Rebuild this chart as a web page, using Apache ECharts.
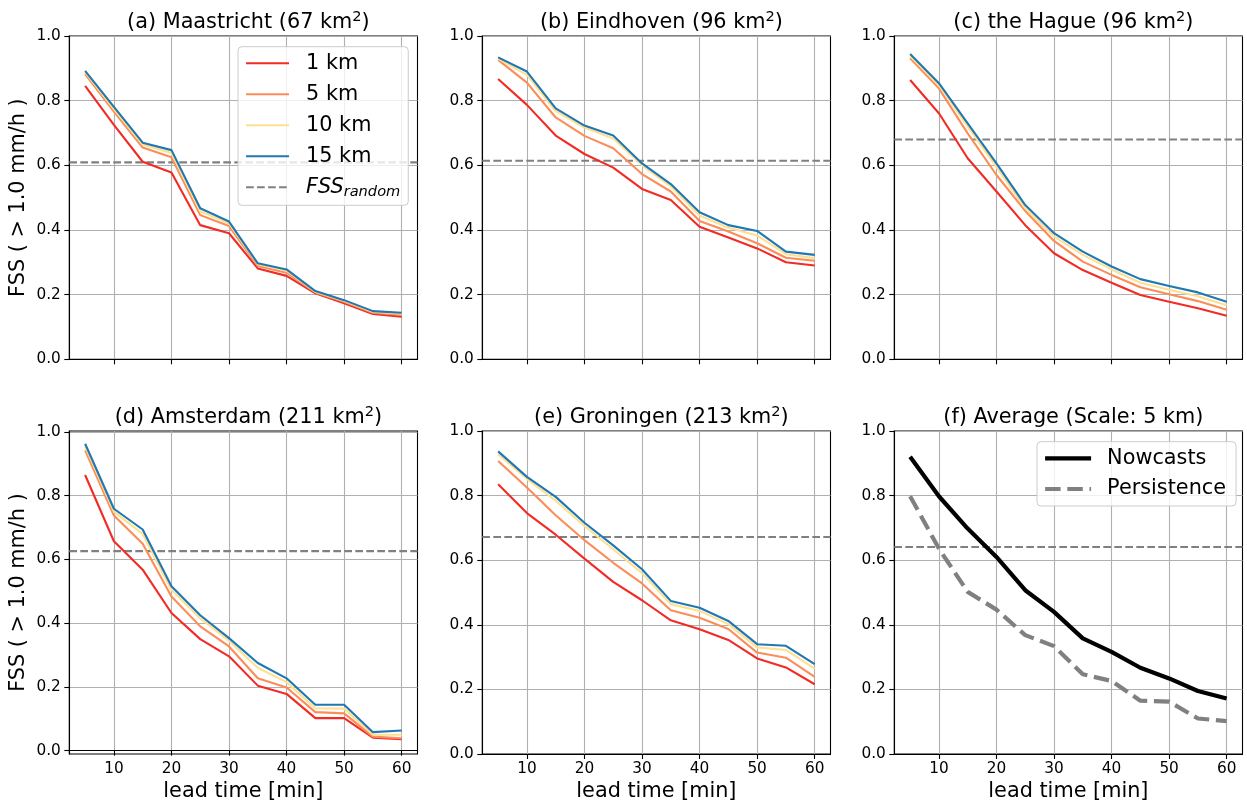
<!DOCTYPE html>
<html>
<head>
<meta charset="utf-8">
<script src="https://cdn.jsdelivr.net/npm/echarts@6/dist/echarts.min.js"></script>
<style>
  html, body { margin: 0; padding: 0; background: #ffffff; }
  #chart { width: 1247px; height: 806px; }
</style>
</head>
<body>
<div id="chart"></div>
<script>
// Lead times (minutes) shared by all panels
const leadTimes = [5, 10, 15, 20, 25, 30, 35, 40, 45, 50, 55, 60];
const xTicks = [10, 20, 30, 40, 50, 60];
const yTicks = [0, 0.2, 0.4, 0.6, 0.8, 1.0];
const scaleNames = ['1 km', '5 km', '10 km', '15 km'];

// (a) Maastricht
const maastricht1 = [0.846, 0.725, 0.611, 0.578, 0.415, 0.390, 0.281, 0.258, 0.204, 0.173, 0.140, 0.132];
const maastricht5 = [0.882, 0.766, 0.655, 0.625, 0.446, 0.412, 0.289, 0.268, 0.207, 0.178, 0.144, 0.137];
const maastricht10 = [0.888, 0.774, 0.664, 0.638, 0.458, 0.420, 0.294, 0.274, 0.209, 0.181, 0.147, 0.141];
const maastricht15 = [0.892, 0.781, 0.670, 0.647, 0.467, 0.426, 0.297, 0.278, 0.211, 0.183, 0.149, 0.144];
const maastrichtRandom = 0.609;

// (b) Eindhoven
const eindhoven1 = [0.867, 0.787, 0.692, 0.635, 0.593, 0.527, 0.493, 0.410, 0.377, 0.343, 0.300, 0.290];
const eindhoven5 = [0.926, 0.856, 0.748, 0.691, 0.653, 0.573, 0.519, 0.428, 0.395, 0.359, 0.314, 0.305];
const eindhoven10 = [0.930, 0.880, 0.768, 0.717, 0.683, 0.600, 0.535, 0.445, 0.407, 0.383, 0.325, 0.313];
const eindhoven15 = [0.934, 0.890, 0.776, 0.723, 0.692, 0.606, 0.542, 0.455, 0.415, 0.397, 0.333, 0.323];
const eindhovenRandom = 0.614;

// (c) the Hague
const hague1 = [0.864, 0.761, 0.622, 0.519, 0.415, 0.328, 0.276, 0.237, 0.199, 0.178, 0.158, 0.135];
const hague5 = [0.931, 0.838, 0.699, 0.570, 0.459, 0.366, 0.302, 0.261, 0.223, 0.201, 0.180, 0.153];
const hague10 = [0.938, 0.848, 0.720, 0.595, 0.467, 0.380, 0.323, 0.278, 0.237, 0.215, 0.195, 0.167];
const hague15 = [0.944, 0.854, 0.730, 0.606, 0.477, 0.390, 0.333, 0.287, 0.248, 0.227, 0.207, 0.178];
const hagueRandom = 0.680;

// (d) Amsterdam
const amsterdam1 = [0.865, 0.657, 0.568, 0.432, 0.350, 0.296, 0.204, 0.178, 0.102, 0.102, 0.041, 0.036];
const amsterdam5 = [0.942, 0.738, 0.649, 0.484, 0.390, 0.327, 0.227, 0.198, 0.121, 0.117, 0.044, 0.039];
const amsterdam10 = [0.955, 0.750, 0.680, 0.505, 0.415, 0.345, 0.260, 0.215, 0.133, 0.132, 0.050, 0.050];
const amsterdam15 = [0.963, 0.759, 0.694, 0.516, 0.425, 0.353, 0.275, 0.227, 0.144, 0.144, 0.058, 0.063];
const amsterdamRandom = 0.626;

// (e) Groningen
const groningen1 = [0.835, 0.746, 0.679, 0.605, 0.533, 0.476, 0.414, 0.386, 0.353, 0.296, 0.268, 0.216];
const groningen5 = [0.907, 0.825, 0.739, 0.662, 0.592, 0.528, 0.445, 0.422, 0.387, 0.314, 0.298, 0.239];
const groningen10 = [0.928, 0.852, 0.784, 0.706, 0.634, 0.560, 0.464, 0.443, 0.402, 0.330, 0.322, 0.264];
const groningen15 = [0.937, 0.858, 0.796, 0.716, 0.646, 0.572, 0.474, 0.453, 0.412, 0.340, 0.335, 0.278];
const groningenRandom = 0.672;

// (f) Average at the 5 km scale
const avgNowcasts = [0.920, 0.798, 0.698, 0.610, 0.507, 0.440, 0.358, 0.316, 0.267, 0.234, 0.195, 0.172];
const avgPersistence = [0.798, 0.636, 0.502, 0.447, 0.368, 0.334, 0.247, 0.226, 0.165, 0.162, 0.110, 0.102];
const avgRandom = 0.641;

const titles = [
  '(a) Maastricht (67 km²)', '(b) Eindhoven (96 km²)', '(c) the Hague (96 km²)',
  '(d) Amsterdam (211 km²)', '(e) Groningen (213 km²)', '(f) Average (Scale: 5 km)'
];
const yLabel = 'FSS ( > 1.0 mm/h )';
const xLabel = 'lead time [min]';

// ---- styling / layout ----
const FONT = 'DejaVu Sans';
const scaleColors = ['#f22b25', '#fc8d59', '#fee090', '#1f77b4'];
const X_MIN = 2.25, X_MAX = 62.75;
const colLefts = [69.3, 482.3, 894.3];
const rowTops = [36, 431];
const rowHeights = [323.3, 323];
const gridWidth = 348.2;

const scalePanels = [
  { series: [maastricht1, maastricht5, maastricht10, maastricht15], random: maastrichtRandom },
  { series: [eindhoven1, eindhoven5, eindhoven10, eindhoven15], random: eindhovenRandom },
  { series: [hague1, hague5, hague10, hague15], random: hagueRandom },
  { series: [amsterdam1, amsterdam5, amsterdam10, amsterdam15], random: amsterdamRandom },
  { series: [groningen1, groningen5, groningen10, groningen15], random: groningenRandom }
];

const pairs = arr => leadTimes.map((t, i) => [t, arr[i]]);
// render the squared unit as a raised, smaller "2"
const titleRich = s => s.replace('²', '{sup|2}');

const grids = [], xAxes = [], yAxes = [], titleOpts = [], series = [];

for (let p = 0; p < 6; p++) {
  const row = Math.floor(p / 3), col = p % 3;
  grids.push({
    left: colLefts[col], top: rowTops[row], width: gridWidth, height: rowHeights[row],
    show: true, borderColor: '#000', borderWidth: 1.1, backgroundColor: 'transparent'
  });
  titleOpts.push({
    text: titleRich(titles[p]),
    left: colLefts[col] + gridWidth / 2,
    top: row === 0 ? 5 : 400,
    textAlign: 'center',
    textStyle: {
      fontFamily: FONT, fontSize: 20.8, fontWeight: 'normal', color: '#000', lineHeight: 26,
      rich: {
        sup: { fontFamily: FONT, fontSize: 14.6, color: '#000', lineHeight: 18, verticalAlign: 'top' }
      }
    }
  });
  xAxes.push({
    type: 'value', gridIndex: p, min: X_MIN, max: X_MAX,
    name: row === 1 ? xLabel : '', nameLocation: 'middle', nameGap: 27,
    nameTextStyle: { fontFamily: FONT, fontSize: 20.8, color: '#000' },
    axisLine: { show: true, lineStyle: { color: '#000', width: 1.1 } },
    axisTick: { show: true, length: 5, customValues: xTicks, lineStyle: { color: '#000', width: 1.1 } },
    axisLabel: {
      show: row === 1, customValues: xTicks, margin: 8,
      fontFamily: FONT, fontSize: 15.3, color: '#000'
    },
    splitLine: { show: true, lineStyle: { color: '#b0b0b0', width: 1.1 } }
  });
  // Amsterdam's axis keeps a slightly wider range than the others
  const yMin = p === 3 ? -0.0105 : 0;
  const yMax = p === 3 ? 1.003 : 1;
  yAxes.push({
    type: 'value', gridIndex: p, min: yMin, max: yMax,
    name: col === 0 ? yLabel : '', nameLocation: 'middle', nameGap: 40, nameRotate: 90,
    nameTextStyle: { fontFamily: FONT, fontSize: 20.8, color: '#000' },
    axisLine: { show: true, lineStyle: { color: '#000', width: 1.1 } },
    axisTick: { show: true, length: 5, customValues: yTicks, lineStyle: { color: '#000', width: 1.1 } },
    axisLabel: {
      show: true, customValues: yTicks, margin: 8.5,
      fontFamily: FONT, fontSize: 15.3, color: '#000',
      formatter: v => Number(v).toFixed(1)
    },
    splitLine: { show: true, lineStyle: { color: '#b0b0b0', width: 1.1 } }
  });

  let randomValue;
  if (p < 5) {
    const panel = scalePanels[p];
    randomValue = panel.random;
    panel.series.forEach((values, k) => {
      series.push({
        name: scaleNames[k], type: 'line', xAxisIndex: p, yAxisIndex: p,
        data: pairs(values), symbol: 'none', showSymbol: false,
        lineStyle: { color: scaleColors[k], width: 2.1 },
        itemStyle: { color: scaleColors[k] },
        z: 3, silent: true
      });
    });
  } else {
    randomValue = avgRandom;
    series.push({
      name: 'Nowcasts', type: 'line', xAxisIndex: p, yAxisIndex: p,
      data: pairs(avgNowcasts), symbol: 'none', showSymbol: false,
      lineStyle: { color: '#000', width: 4.2 }, itemStyle: { color: '#000' }, z: 4, silent: true
    });
    series.push({
      name: 'Persistence', type: 'line', xAxisIndex: p, yAxisIndex: p,
      data: pairs(avgPersistence), symbol: 'none', showSymbol: false,
      lineStyle: { color: '#808080', width: 4.2, type: [15.5, 6.7] },
      itemStyle: { color: '#808080' }, z: 3, silent: true
    });
  }
  // horizontal reference level across the whole panel
  series.push({
    name: 'FSS_random', type: 'line', xAxisIndex: p, yAxisIndex: p,
    data: [[X_MIN, randomValue], [X_MAX, randomValue]], symbol: 'none', showSymbol: false,
    lineStyle: { color: '#808080', width: 2.1, type: [7.7, 3.3] },
    itemStyle: { color: '#808080' }, z: 2, silent: true
  });
}

const legendText = { fontFamily: FONT, fontSize: 20.8, color: '#000', lineHeight: 24 };

const option = {
  animation: false,
  backgroundColor: '#ffffff',
  title: titleOpts,
  grid: grids,
  xAxis: xAxes,
  yAxis: yAxes,
  legend: [
    {
      data: ['1 km', '5 km', '10 km', '15 km', 'FSS_random'],
      orient: 'vertical', left: 238, top: 46.7,
      padding: [4.6, 8, 6, 7], itemGap: 7, itemWidth: 43, itemHeight: 0.5,
      itemStyle: { opacity: 0 },
      lineStyle: { width: 'inherit', type: 'inherit' },
      backgroundColor: 'rgba(255,255,255,0.8)', borderColor: '#cccccc', borderWidth: 1, borderRadius: 4,
      selectedMode: false,
      formatter: name => name === 'FSS_random' ? '{it|FSS}{sub|random}' : name,
      textStyle: Object.assign({}, legendText, {
        padding: [0, 0, 0, 12],
        rich: {
          it: { fontFamily: FONT, fontSize: 20.8, fontStyle: 'italic', color: '#000', lineHeight: 24, verticalAlign: 'middle' },
          sub: { fontFamily: FONT, fontSize: 14.6, fontStyle: 'italic', color: '#000', lineHeight: 12, verticalAlign: 'bottom' }
        }
      })
    },
    {
      data: ['Nowcasts', 'Persistence'],
      orient: 'vertical', left: 1037, top: 441.7,
      padding: [4.6, 10, 5, 6], itemGap: 6.7, itemWidth: 46, itemHeight: 0.5,
      itemStyle: { opacity: 0 },
      lineStyle: { width: 'inherit', type: 'inherit' },
      backgroundColor: 'rgba(255,255,255,0.8)', borderColor: '#cccccc', borderWidth: 1, borderRadius: 4,
      selectedMode: false,
      textStyle: Object.assign({}, legendText, { padding: [0, 0, 0, 11] })
    }
  ],
  series: series
};

const chart = echarts.init(document.getElementById('chart'), null, { renderer: 'canvas' });
chart.setOption(option);
</script>
</body>
</html>
